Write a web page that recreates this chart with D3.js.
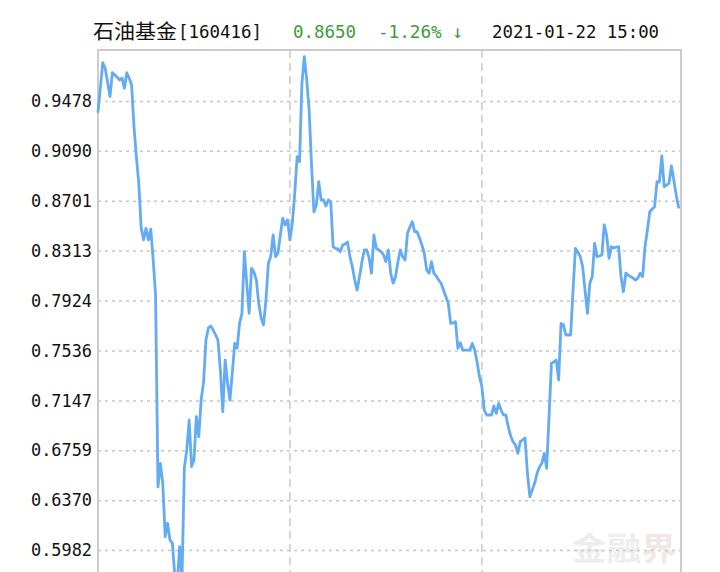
<!DOCTYPE html>
<html>
<head>
<meta charset="utf-8">
<script src="https://cdn.jsdelivr.net/npm/d3@7"></script>
<style>
  html, body { margin: 0; padding: 0; background: #fff; }
  svg { display: block; }
</style>
</head>
<body>
<svg id="chart" width="720" height="572"></svg>
<script>
// ---- data ----
const fundName = "石油基金";
const fundCode = "[160416]";
const lastValue = "0.8650";
const lastChange = "-1.26% ↓";
const lastTime = "2021-01-22 15:00";
const watermark = ["金融", "界"];
const yTickLabels = ["0.9478", "0.9090", "0.8701", "0.8313", "0.7924", "0.7536", "0.7147", "0.6759", "0.6370", "0.5982"];
const xGridDays = [80, 160];
const days = [0,2,3,5,6,8,9,10,11,12,13,14,15,16,17,18,19,20,21,22,23,24,25,26,27,28,29,30,31,32,33,34,35,36,37,38,39,40,41,42,43,44,45,46,47,48,49,50,51,52,53,54,55,56,57,58,59,60,61,62,63,64,65,66,67,68,69,70,71,72,73,74,75,76,77,78,79,80,81,82,83,84,85,86,87,88,89,90,91,92,93,94,95,96,97,98,99,100,101,102,103,104,105,106,107,108,109,110,111,112,113,114,115,116,117,118,119,120,121,122,123,124,125,126,127,128,129,130,131,132,133,134,135,136,137,138,139,140,141,142,143,144,145,146,147,148,149,150,151,152,153,154,155,156,157,158,159,160,161,162,163,164,165,166,167,168,169,170,171,172,173,174,175,176,177,178,179,180,181,182,183,184,185,186,187,188,189,190,191,192,193,194,195,196,197,198,199,200,201,202,203,204,205,206,207,208,209,210,211,212,213,214,215,216,217,218,219,220,221,222,223,224,225,226,227,228,229,230,231,232,233,234,235,236,237,238,239,240,241,242];
const navValues = [0.9395,0.9776,0.9733,0.9512,0.9698,0.9663,0.9642,0.9657,0.9577,0.9698,0.9655,0.9603,0.9278,0.9044,0.8837,0.8489,0.8396,0.8487,0.8396,0.8481,0.8240,0.7968,0.6473,0.6657,0.6501,0.6086,0.6190,0.6060,0.6034,0.5787,0.5710,0.6008,0.5749,0.6621,0.6761,0.6994,0.6631,0.6683,0.7020,0.6864,0.7150,0.7290,0.7617,0.7711,0.7726,0.7695,0.7656,0.7617,0.7384,0.7059,0.7461,0.7282,0.7150,0.7368,0.7591,0.7553,0.7747,0.7825,0.8305,0.8059,0.7825,0.8175,0.8147,0.8084,0.7903,0.7788,0.7734,0.7929,0.8214,0.8266,0.8435,0.8266,0.8292,0.8435,0.8565,0.8513,0.8552,0.8396,0.8526,0.8759,0.9044,0.9005,0.9616,0.9823,0.9642,0.9408,0.8980,0.8614,0.8668,0.8850,0.8707,0.8707,0.8661,0.8707,0.8694,0.8344,0.8331,0.8326,0.8305,0.8357,0.8365,0.8380,0.8266,0.8188,0.8084,0.8006,0.8110,0.8225,0.8318,0.8318,0.8256,0.8137,0.8435,0.8331,0.8318,0.8305,0.8279,0.8227,0.8318,0.8137,0.8059,0.8110,0.8225,0.8318,0.8266,0.8240,0.8448,0.8497,0.8538,0.8460,0.8460,0.8411,0.8357,0.8292,0.8162,0.8137,0.8227,0.8137,0.8115,0.8084,0.8059,0.8006,0.7954,0.7903,0.7747,0.7750,0.7760,0.7553,0.7596,0.7539,0.7539,0.7539,0.7539,0.7591,0.7539,0.7446,0.7331,0.7254,0.7072,0.7033,0.7033,0.7033,0.7103,0.7046,0.7124,0.7072,0.7033,0.7033,0.6942,0.6870,0.6825,0.6800,0.6735,0.6825,0.6839,0.6854,0.6579,0.6397,0.6449,0.6501,0.6579,0.6628,0.6657,0.6735,0.6618,0.7020,0.7436,0.7446,0.7461,0.7306,0.7747,0.7734,0.7656,0.7656,0.7656,0.8006,0.8331,0.8302,0.8266,0.8188,0.8006,0.7825,0.8059,0.8110,0.8370,0.8266,0.8271,0.8279,0.8513,0.8435,0.8253,0.8344,0.8333,0.8341,0.8344,0.8110,0.7993,0.8137,0.8123,0.8110,0.8100,0.8084,0.8098,0.8137,0.8110,0.8344,0.8474,0.8616,0.8637,0.8655,0.8850,0.8847,0.9050,0.8811,0.8824,0.8837,0.8972,0.8863,0.8746,0.8650];

// ---- layout ----
const svg = d3.select("#chart");
const plotLeft = 98, plotRight = 681, plotTop = 50, plotBottom = 620;
const x = d3.scaleLinear().domain([0, 243]).range([plotLeft, plotRight]);
const y = d3.scaleLinear().domain([+yTickLabels[yTickLabels.length - 1], +yTickLabels[0]]).range([550, 101]);
const mono = "'DejaVu Sans Mono', 'Liberation Mono', monospace";

// watermark
const wm = svg.append("text")
  .attr("x", 572).attr("y", 560)
  .attr("font-family", "'Noto Sans CJK SC', sans-serif")
  .attr("font-weight", "bold")
  .attr("font-size", 32)
  .attr("textLength", 104).attr("lengthAdjust", "spacingAndGlyphs");
wm.append("tspan").attr("fill", "#ededed").text(watermark[0]);
wm.append("tspan").attr("fill", "#f3e6e6").text(watermark[1]);

// horizontal grid + labels
const yAxis = d3.axisLeft(y)
  .tickValues(yTickLabels.map(Number))
  .tickFormat((d, i) => yTickLabels[i])
  .tickSizeInner(-(plotRight - plotLeft))
  .tickSizeOuter(0)
  .tickPadding(6);
const gy = svg.append("g").attr("transform", `translate(${plotLeft},0)`).call(yAxis);
gy.select(".domain").remove();
gy.selectAll(".tick line")
  .attr("stroke", "#c8c8c8").attr("stroke-width", 1.5).attr("stroke-dasharray", "3,4");
gy.selectAll(".tick text")
  .attr("font-family", mono).attr("font-size", 18).attr("fill", "#111")
  .attr("textLength", 61).attr("lengthAdjust", "spacingAndGlyphs");

// vertical grid
svg.append("g").selectAll("line").data(xGridDays).join("line")
  .attr("x1", d => x(d)).attr("x2", d => x(d))
  .attr("y1", plotTop).attr("y2", plotBottom)
  .attr("stroke", "#c8c8c8").attr("stroke-width", 1.5).attr("stroke-dasharray", "8,5");

// frame
svg.append("path")
  .attr("d", `M${plotLeft},${plotBottom}V${plotTop}H${plotRight}V${plotBottom}`)
  .attr("fill", "none").attr("stroke", "#cccccc").attr("stroke-width", 2);

// line
const pts = days.map((d, i) => [d, navValues[i]]);
svg.append("path")
  .datum(pts)
  .attr("fill", "none")
  .attr("stroke", "#63abf3")
  .attr("stroke-width", 2.8)
  .attr("stroke-linejoin", "round")
  .attr("stroke-linecap", "round")
  .attr("d", d3.line().x(d => x(d[0])).y(d => y(d[1])));

// title
const title = svg.append("g");
title.append("text").attr("x", 93).attr("y", 39)
  .attr("font-family", "'Noto Sans CJK SC', sans-serif").attr("font-size", 20).attr("fill", "#111")
  .attr("textLength", 84).attr("lengthAdjust", "spacingAndGlyphs")
  .text(fundName);
title.append("text").attr("x", 178).attr("y", 38)
  .attr("font-family", mono).attr("font-size", 18).attr("fill", "#111")
  .attr("textLength", 84).attr("lengthAdjust", "spacingAndGlyphs")
  .text(fundCode);
title.append("text").attr("x", 293).attr("y", 38)
  .attr("font-family", mono).attr("font-size", 18).attr("fill", "#3d9b3d")
  .attr("textLength", 63).attr("lengthAdjust", "spacingAndGlyphs")
  .text(lastValue);
title.append("text").attr("x", 378).attr("y", 38)
  .attr("font-family", mono).attr("font-size", 18).attr("fill", "#3d9b3d")
  .attr("textLength", 85).attr("lengthAdjust", "spacingAndGlyphs")
  .text(lastChange);
title.append("text").attr("x", 492).attr("y", 38)
  .attr("font-family", mono).attr("font-size", 18).attr("fill", "#111")
  .attr("textLength", 167).attr("lengthAdjust", "spacingAndGlyphs")
  .text(lastTime);
</script>
</body>
</html>
